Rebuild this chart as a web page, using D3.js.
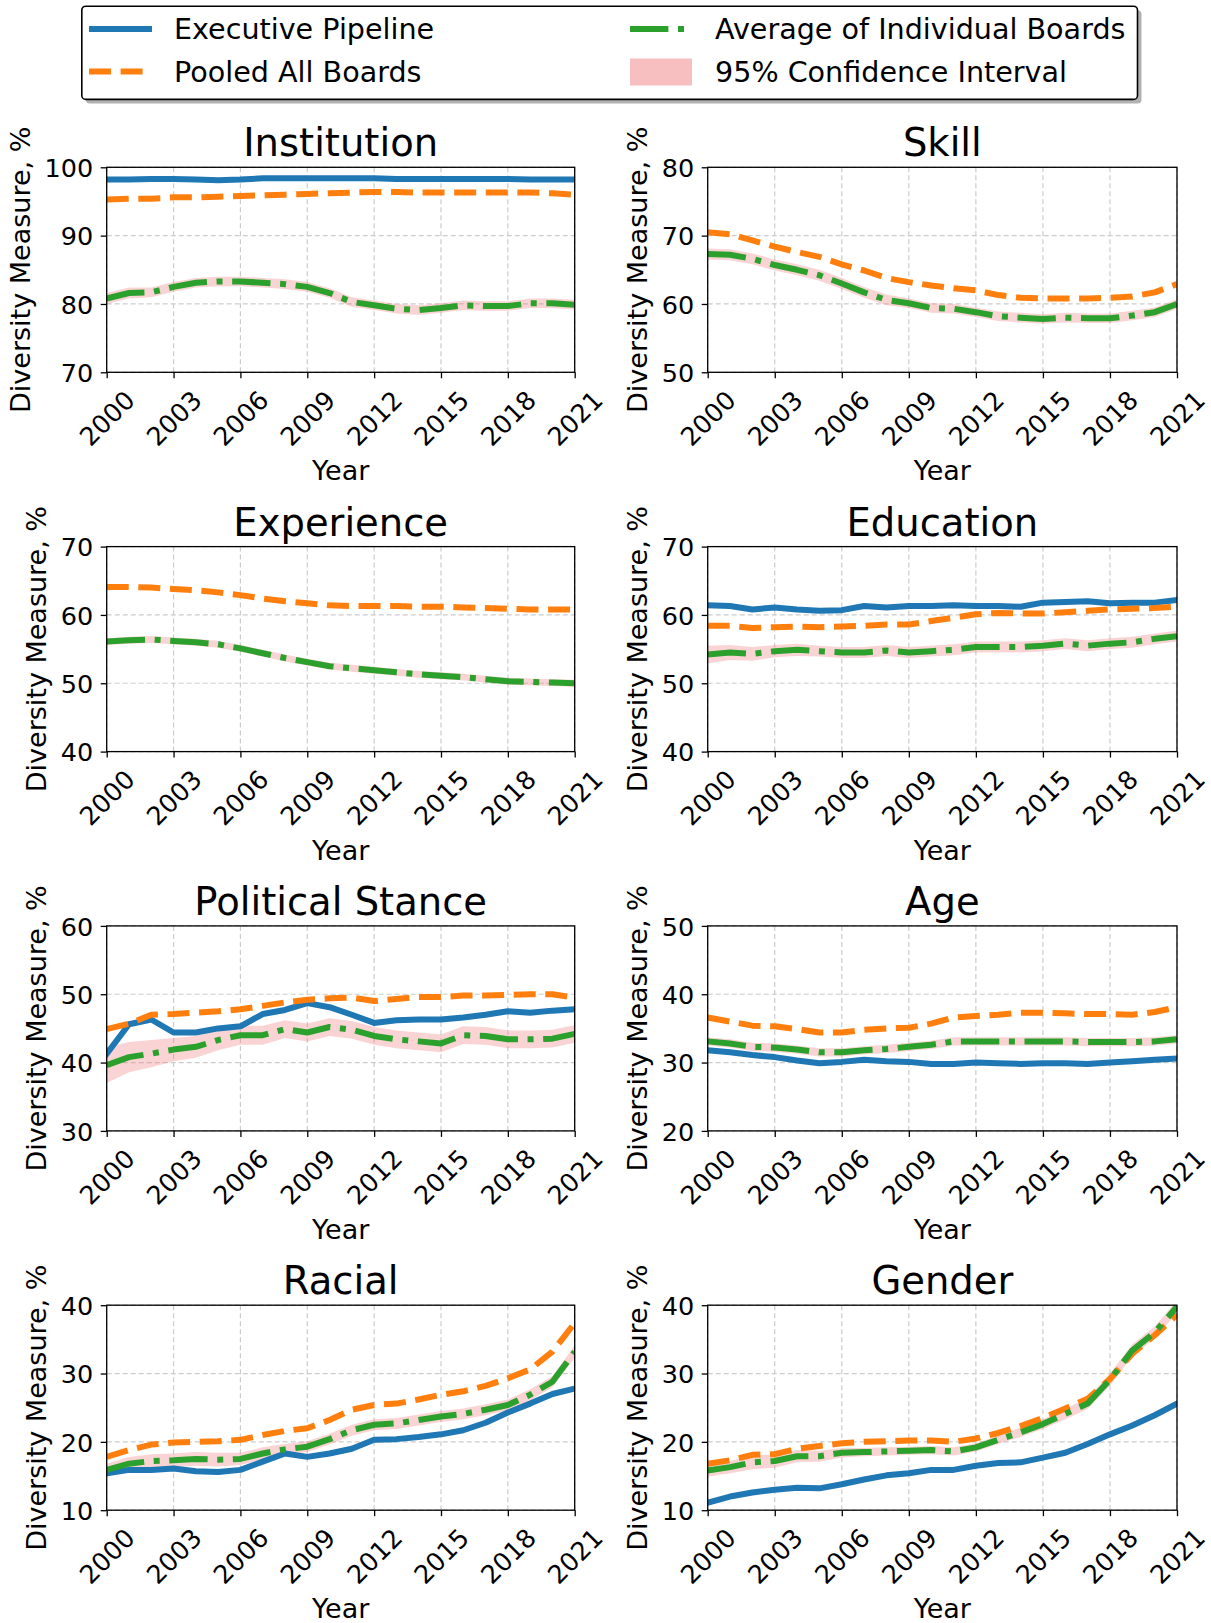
<!DOCTYPE html>
<html><head><meta charset="utf-8">
<script src="https://cdn.jsdelivr.net/npm/d3@7"></script>
<style>
body{margin:0;background:#fff}
svg{display:block}
text{font-family:"DejaVu Sans",sans-serif;fill:#000}
</style>
</head><body>
<svg id="chart" width="1211" height="1623"></svg>
<script>
// ---------- DATA ----------
const years = [2000,2001,2002,2003,2004,2005,2006,2007,2008,2009,2010,2011,2012,2013,2014,2015,2016,2017,2018,2019,2020,2021];
const xTickYears = [2000,2003,2006,2009,2012,2015,2018,2021];
const panelTitles = ["Institution","Skill","Experience","Education","Political Stance","Age","Racial","Gender"];
const yTicksInstitution = [70,80,90,100];
const yTicksSkill = [50,60,70,80];
const yTicksExperience = [40,50,60,70];
const yTicksEducation = [40,50,60,70];
const yTicksPolitical = [30,40,50,60];
const yTicksAge = [20,30,40,50];
const yTicksRacial = [10,20,30,40];
const yTicksGender = [10,20,30,40];
const seriesNames = ["Executive Pipeline","Pooled All Boards","Average of Individual Boards","95% Confidence Interval"];

const institutionPipeline = [98.2,98.2,98.3,98.3,98.2,98.1,98.2,98.4,98.4,98.4,98.4,98.4,98.4,98.3,98.3,98.3,98.3,98.3,98.3,98.2,98.2,98.2];
const institutionPooled   = [95.3,95.4,95.4,95.6,95.6,95.7,95.8,95.9,96.0,96.1,96.2,96.3,96.4,96.4,96.3,96.3,96.3,96.3,96.3,96.3,96.2,96.0];
const institutionAverage  = [80.8,81.6,81.7,82.5,83.1,83.3,83.3,83.1,82.9,82.5,81.6,80.3,79.8,79.3,79.1,79.4,79.8,79.7,79.7,80.1,80.1,79.9];
const institutionCI       = [0.8,0.8,0.7,0.7,0.7,0.7,0.7,0.7,0.7,0.7,0.7,0.7,0.7,0.7,0.7,0.7,0.7,0.7,0.7,0.7,0.7,0.7];

const skillPipeline = null;
const skillPooled   = [70.5,70.2,69.3,68.4,67.6,66.9,65.8,64.9,63.8,63.2,62.7,62.3,62.0,61.3,60.9,60.8,60.8,60.8,60.9,61.1,61.7,62.9];
const skillAverage  = [67.3,67.2,66.6,65.7,65.0,64.2,63.0,61.7,60.6,60.1,59.4,59.3,58.8,58.2,58.0,57.8,58.0,57.9,57.9,58.3,58.8,60.0];
const skillCI       = [0.8,0.8,0.8,0.8,0.8,0.8,0.8,0.8,0.8,0.7,0.7,0.7,0.7,0.7,0.7,0.7,0.7,0.7,0.7,0.7,0.7,0.7];

const experiencePipeline = null;
const experiencePooled   = [64.1,64.1,64.0,63.8,63.6,63.3,62.9,62.4,62.0,61.7,61.4,61.3,61.3,61.3,61.2,61.2,61.1,61.0,60.9,60.8,60.8,60.8];
const experienceAverage  = [56.1,56.3,56.4,56.2,56.0,55.7,55.1,54.4,53.7,53.1,52.5,52.2,51.9,51.6,51.3,51.1,50.9,50.6,50.3,50.2,50.1,50.0];
const experienceCI       = [0.5,0.5,0.5,0.5,0.5,0.5,0.5,0.5,0.5,0.5,0.5,0.5,0.5,0.5,0.5,0.5,0.5,0.5,0.5,0.5,0.5,0.5];

const educationPipeline = [61.4,61.3,60.8,61.1,60.8,60.6,60.7,61.3,61.1,61.3,61.3,61.4,61.3,61.3,61.2,61.8,61.9,62.0,61.7,61.8,61.8,62.2];
const educationPooled   = [58.4,58.4,58.1,58.2,58.3,58.2,58.3,58.4,58.6,58.6,59.1,59.6,60.1,60.3,60.2,60.2,60.4,60.6,60.8,60.9,61.0,61.2];
const educationAverage  = [54.2,54.5,54.3,54.7,54.9,54.7,54.5,54.5,54.8,54.5,54.7,54.9,55.3,55.3,55.3,55.5,55.8,55.5,55.8,56.0,56.5,56.9];
const educationCI       = [1.3,1.1,1.0,0.9,0.9,0.8,0.8,0.8,0.8,0.8,0.8,0.8,0.8,0.8,0.8,0.8,0.8,0.8,0.8,0.8,0.8,0.8];

const politicalPipeline = [41.3,45.6,46.3,44.4,44.4,45.0,45.3,47.1,47.7,48.7,48.1,47.0,45.8,46.2,46.3,46.3,46.6,47.0,47.5,47.3,47.6,47.8];
const politicalPooled   = [44.9,45.7,47.0,47.1,47.3,47.5,47.8,48.3,48.8,49.2,49.4,49.5,49.0,49.3,49.6,49.6,49.8,49.8,49.9,50.0,50.0,49.5];
const politicalAverage  = [39.6,40.8,41.3,41.9,42.3,43.3,44.0,44.0,44.9,44.4,45.2,44.8,43.9,43.4,43.1,42.8,44.0,43.9,43.4,43.4,43.5,44.2];
const politicalCI       = [2.6,2.2,2.0,1.7,1.6,1.5,1.4,1.4,1.3,1.3,1.3,1.3,1.3,1.3,1.3,1.3,1.3,1.3,1.3,1.3,1.3,1.3];

const agePipeline = [31.8,31.5,31.1,30.8,30.3,29.9,30.1,30.4,30.2,30.1,29.8,29.8,30.0,29.9,29.8,29.9,29.9,29.8,30.0,30.2,30.4,30.6];
const agePooled   = [36.6,36.0,35.4,35.3,34.9,34.4,34.4,34.8,35.0,35.1,35.7,36.6,36.8,37.0,37.3,37.3,37.2,37.1,37.1,37.0,37.4,38.1];
const ageAverage  = [33.1,32.8,32.3,32.2,31.9,31.5,31.5,31.8,32.0,32.3,32.6,33.1,33.1,33.1,33.1,33.1,33.1,33.0,33.0,33.0,33.1,33.4];
const ageCI       = [0.6,0.6,0.6,0.6,0.6,0.6,0.6,0.6,0.6,0.6,0.6,0.6,0.6,0.6,0.6,0.6,0.6,0.6,0.6,0.6,0.6,0.6];

const racialPipeline = [15.4,15.9,15.9,16.1,15.7,15.6,15.9,17.1,18.3,17.8,18.3,19.0,20.3,20.4,20.7,21.1,21.7,22.8,24.3,25.6,27.0,27.8];
const racialPooled   = [17.8,18.8,19.6,19.9,20.0,20.1,20.3,21.0,21.6,22.0,23.2,24.7,25.4,25.6,26.2,26.9,27.4,28.2,29.3,30.6,33.2,37.4];
const racialAverage  = [15.9,16.8,17.2,17.3,17.5,17.4,17.5,18.3,18.9,19.3,20.4,21.7,22.5,22.7,23.2,23.7,24.1,24.7,25.4,26.9,28.8,33.2];
const racialCI       = [0.9,1.0,1.0,1.0,1.0,1.0,0.9,0.9,0.8,0.8,0.8,0.8,0.8,0.8,0.8,0.8,0.8,0.8,0.8,0.8,0.8,0.9];

const genderPipeline = [11.1,12.0,12.6,13.0,13.3,13.2,13.8,14.5,15.1,15.4,15.9,15.9,16.5,16.9,17.0,17.7,18.4,19.7,21.1,22.4,23.9,25.6];
const genderPooled   = [16.8,17.3,18.1,18.2,19.0,19.4,19.8,20.0,20.1,20.2,20.2,20.0,20.5,21.3,22.3,23.5,24.9,26.3,29.2,32.9,35.6,38.6];
const genderAverage  = [15.8,16.3,17.0,17.2,17.9,17.9,18.4,18.5,18.6,18.7,18.8,18.6,19.2,20.3,21.4,22.6,24.1,25.6,29.1,33.4,36.0,39.8];
const genderCI       = [0.9,0.9,1.0,1.0,0.9,0.8,0.7,0.6,0.6,0.6,0.6,0.6,0.6,0.6,0.7,0.7,0.8,0.8,0.9,0.9,0.9,0.9];

// ---------- PANELS (built from arrays above) ----------
const panels = [
  {pipe:institutionPipeline, pool:institutionPooled, avg:institutionAverage, ci:institutionCI, ticks:yTicksInstitution},
  {pipe:skillPipeline, pool:skillPooled, avg:skillAverage, ci:skillCI, ticks:yTicksSkill},
  {pipe:experiencePipeline, pool:experiencePooled, avg:experienceAverage, ci:experienceCI, ticks:yTicksExperience},
  {pipe:educationPipeline, pool:educationPooled, avg:educationAverage, ci:educationCI, ticks:yTicksEducation},
  {pipe:politicalPipeline, pool:politicalPooled, avg:politicalAverage, ci:politicalCI, ticks:yTicksPolitical},
  {pipe:agePipeline, pool:agePooled, avg:ageAverage, ci:ageCI, ticks:yTicksAge},
  {pipe:racialPipeline, pool:racialPooled, avg:racialAverage, ci:racialCI, ticks:yTicksRacial},
  {pipe:genderPipeline, pool:genderPooled, avg:genderAverage, ci:genderCI, ticks:yTicksGender}
].map((p,i)=>Object.assign(p,{title:panelTitles[i]}));

// ---------- STYLE / LAYOUT ----------
const C_BLUE="#1f77b4", C_ORANGE="#ff7f0e", C_GREEN="#2ca02c";
const LW=6;
const DASH_ORANGE="22,9.6", DASH_GREEN="38.4,9.6,6,9.6";
const colX=[[106.7,574.7],[707.7,1177]];
const rowTop0=167.3, rowStep=379.3, panelH=205;
const FS_TICK=25.5, FS_LABEL=27, FS_TITLE=38.5, FS_LEGEND=28.6;

const svg=d3.select("#chart");
svg.append("rect").attr("width",1211).attr("height",1623).attr("fill","#fff");

panels.forEach((p,i)=>{
  const col=i%2, row=Math.floor(i/2);
  const x0=colX[col][0], x1=colX[col][1];
  const y0=rowTop0+row*rowStep, y1=y0+panelH;
  const x=d3.scaleLinear().domain([years[0],years[years.length-1]]).range([x0,x1]);
  const y=d3.scaleLinear().domain([p.ticks[0],p.ticks[p.ticks.length-1]]).range([y1,y0]);
  const g=svg.append("g");
  const clipId="clip"+i;
  svg.append("clipPath").attr("id",clipId).append("rect")
    .attr("x",x0).attr("y",y0).attr("width",x1-x0).attr("height",y1-y0);

  // grid
  g.append("g").selectAll("line").data(xTickYears).join("line")
    .attr("x1",d=>x(d)).attr("x2",d=>x(d)).attr("y1",y0).attr("y2",y1)
    .attr("stroke","#cccccc").attr("stroke-width",1.2).attr("stroke-dasharray","5,3");
  g.append("g").selectAll("line").data(p.ticks).join("line")
    .attr("x1",x0).attr("x2",x1).attr("y1",d=>y(d)).attr("y2",d=>y(d))
    .attr("stroke","#cccccc").attr("stroke-width",1.2).attr("stroke-dasharray","5,3");

  const plot=g.append("g").attr("clip-path",`url(#${clipId})`);
  const rows=years.map((yr,k)=>({yr,k}));
  // CI band
  plot.append("path").datum(rows)
    .attr("d",d3.area().x(d=>x(d.yr)).y0(d=>y(p.avg[d.k]-p.ci[d.k])).y1(d=>y(p.avg[d.k]+p.ci[d.k])))
    .attr("fill","#f08080").attr("fill-opacity",0.34);
  const line=(arr)=>d3.line().x(d=>x(d.yr)).y(d=>y(arr[d.k]));
  if(p.pipe){
    plot.append("path").datum(rows).attr("d",line(p.pipe)).attr("fill","none")
      .attr("stroke",C_BLUE).attr("stroke-width",LW).attr("stroke-linejoin","round").attr("stroke-linecap","square");
  }
  plot.append("path").datum(rows).attr("d",line(p.pool)).attr("fill","none")
    .attr("stroke",C_ORANGE).attr("stroke-width",LW).attr("stroke-linejoin","round")
    .attr("stroke-dasharray",DASH_ORANGE);
  plot.append("path").datum(rows).attr("d",line(p.avg)).attr("fill","none")
    .attr("stroke",C_GREEN).attr("stroke-width",LW).attr("stroke-linejoin","round")
    .attr("stroke-dasharray",DASH_GREEN);

  // axes
  const ax=g.append("g").attr("transform",`translate(0,${y1})`)
    .call(d3.axisBottom(x).tickValues(xTickYears).tickFormat(d3.format("d")).tickSize(6).tickPadding(0));
  ax.select(".domain").remove();
  ax.selectAll(".tick line").attr("stroke","#000").attr("stroke-width",1.3);
  ax.selectAll(".tick text").attr("y",0).attr("dy",null)
    .attr("transform","translate(0,46) rotate(-45)")
    .attr("text-anchor","middle").attr("dominant-baseline","central")
    .attr("font-size",FS_TICK).attr("font-family","DejaVu Sans").attr("fill","#000");

  const ay=g.append("g").attr("transform",`translate(${x0},0)`)
    .call(d3.axisLeft(y).tickValues(p.ticks).tickFormat(d3.format("d")).tickSize(6).tickPadding(7.5));
  ay.select(".domain").remove();
  ay.selectAll(".tick line").attr("stroke","#000").attr("stroke-width",1.3);
  ay.selectAll(".tick text").attr("font-size",FS_TICK).attr("font-family","DejaVu Sans").attr("fill","#000").attr("dy","0.36em");
  let maxW=0;
  ay.selectAll(".tick text").each(function(){maxW=Math.max(maxW,this.getComputedTextLength());});

  // spines
  g.append("rect").attr("x",x0).attr("y",y0).attr("width",x1-x0).attr("height",y1-y0)
    .attr("fill","none").attr("stroke","#000").attr("stroke-width",1.3);

  // labels
  g.append("text").attr("x",(x0+x1)/2).attr("y",y1+108).attr("text-anchor","middle")
    .attr("font-size",FS_LABEL).text("Year");
  const lx=x0-6-7.5-maxW-8-6.5;
  g.append("text").attr("transform",`translate(${lx},${(y0+y1)/2}) rotate(-90)`)
    .attr("text-anchor","middle").attr("font-size",FS_LABEL).text("Diversity Measure, %");
  g.append("text").attr("x",(x0+x1)/2).attr("y",y0-11).attr("text-anchor","middle")
    .attr("font-size",FS_TITLE).text(p.title);
});

// ---------- LEGEND ----------
const lg=svg.append("g");
const LX=81.8, LY=6.2, LW_=1055.7, LH=93.2;
lg.append("rect").attr("x",LX+4).attr("y",LY+4).attr("width",LW_).attr("height",LH).attr("rx",4)
  .attr("fill","#7f7f7f").attr("fill-opacity",0.6);
lg.append("rect").attr("x",LX).attr("y",LY).attr("width",LW_).attr("height",LH).attr("rx",4)
  .attr("fill","#fff").attr("stroke","#000").attr("stroke-width",1.6);
const legendItems=[
  {name:seriesNames[0],hx:89, ty:29, type:"line",color:C_BLUE,dash:null},
  {name:seriesNames[1],hx:89, ty:71.5, type:"line",color:C_ORANGE,dash:DASH_ORANGE},
  {name:seriesNames[2],hx:630, ty:29, type:"line",color:C_GREEN,dash:DASH_GREEN},
  {name:seriesNames[3],hx:630, ty:71.5, type:"patch"}
];
legendItems.forEach(it=>{
  if(it.type==="line"){
    const l=lg.append("line").attr("x1",it.hx).attr("x2",it.hx+63).attr("y1",it.ty).attr("y2",it.ty)
      .attr("stroke",it.color).attr("stroke-width",LW);
    if(it.dash) l.attr("stroke-dasharray",it.dash);
  } else {
    lg.append("rect").attr("x",it.hx).attr("y",it.ty-13).attr("width",62).attr("height",27)
      .attr("fill","#f08080").attr("fill-opacity",0.5);
  }
  lg.append("text").attr("x",it.hx+85).attr("y",it.ty).attr("dominant-baseline","central")
    .attr("font-size",FS_LEGEND).text(it.name);
});
</script>
</body></html>
